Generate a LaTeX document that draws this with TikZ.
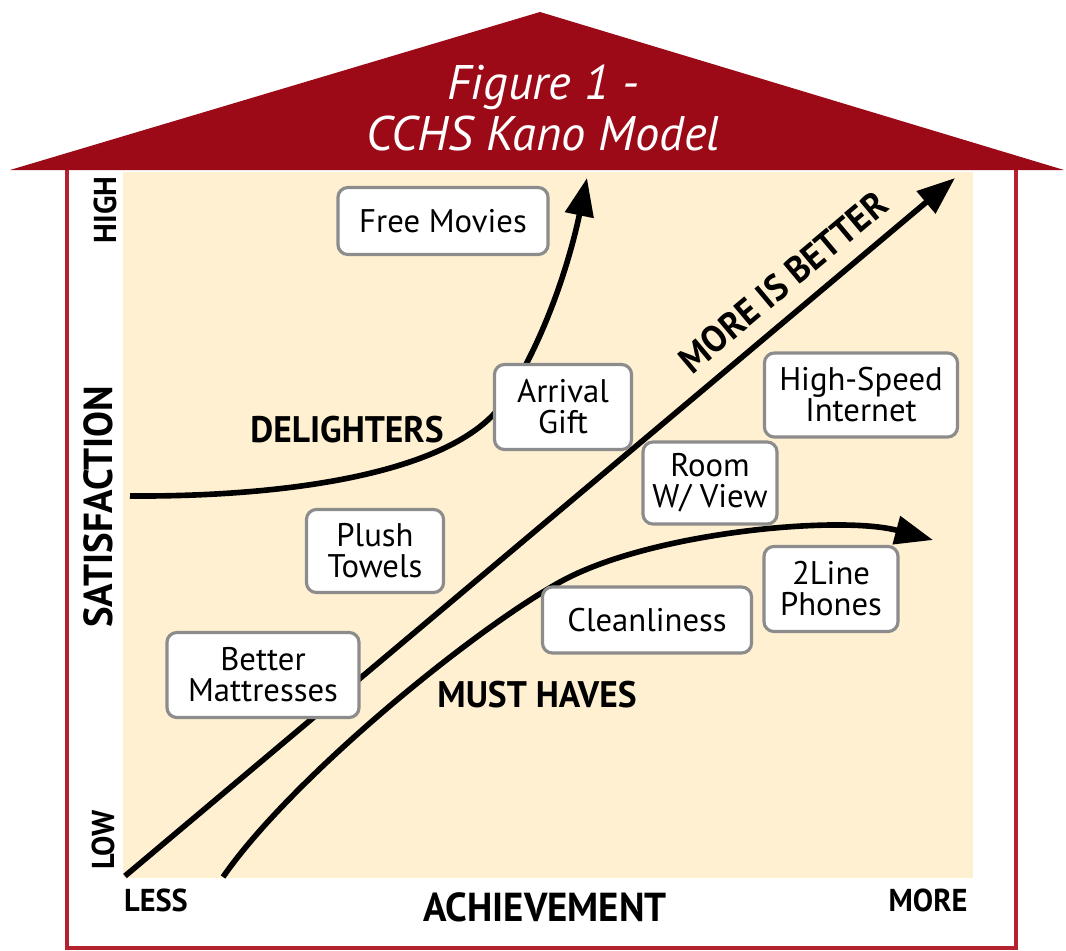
\documentclass[tikz,border=0pt]{standalone}
\usepackage{fontspec}
\setmainfont{PT Sans}
\newfontfamily\narrowfont[FakeStretch=0.96]{PT Sans}
\usetikzlibrary{arrows.meta}
\definecolor{roofred}{HTML}{9C0A17}
\definecolor{wallred}{HTML}{B3222E}
\definecolor{cream}{HTML}{FFF0D2}
\definecolor{boxgray}{HTML}{8C8C8C}

\begin{document}
\begin{tikzpicture}[
    x=0.01cm, y=-0.01cm,
    item/.style={
        rectangle, draw=boxgray, fill=white, rounded corners=0.1cm,
        line width=0.9pt, align=center, inner sep=0pt,
        font=\fontsize{9.3}{8.8}\selectfont
    },
    zone/.style={font=\narrowfont\bfseries\fontsize{10.5}{12}\selectfont},
    axisname/.style={font=\narrowfont\bfseries\fontsize{11.5}{13}\selectfont},
    axisend/.style={font=\narrowfont\bfseries\fontsize{9}{10}\selectfont},
    curve/.style={line width=1.6pt, -{Triangle[length=10.8pt,width=8pt]}}
]

\useasboundingbox (0,0) rectangle (1066,951);

% House walls, chart area and roof
\draw[wallred, line width=0.9pt] (67,168) -- (67,948) -- (1016,948) -- (1016,168);
\fill[cream] (123,172) rectangle (973,878);
\fill[roofred] (10,170) -- (540,12) -- (1064,170) -- cycle;

\node[white, align=center, font=\itshape\fontsize{13.8}{14.5}\selectfont] (title) at (543,108) {Figure 1 -\\CCHS Kano Model};

% Axis labels
\node[axisend, rotate=90] (high) at (105,210) {HIGH};
\node[axisname, rotate=90] (satisfaction) at (98,507) {SATISFACTION};
\node[axisend, rotate=90] (low) at (103,840) {LOW};
\node[axisend] (less) at (156,900) {LESS};
\node[axisname] (achievement) at (545,907) {ACHIEVEMENT};
\node[axisend] (more) at (928,900) {MORE};

% Curve end points
\coordinate (delight start) at (130,496);
\coordinate (delight tip) at (587,178);
\coordinate (linear start) at (125,876);
\coordinate (linear tip) at (955,178);
\coordinate (must start) at (223,877);
\coordinate (must tip) at (933,540);

% Kano curves
\draw[curve] (delight start) .. controls (300,497) and (460,470) .. (505,400)
    .. controls (545,340) and (570,260) .. (delight tip);
\draw[curve] (linear start) -- (linear tip);
\draw[curve] (must start) .. controls (290,780) and (470,632) .. (560,582)
    .. controls (650,532) and (840,515) .. (must tip);

% Hotel features
\node[item, minimum width=2.1cm, minimum height=0.67cm] (movies) at (443,221) {Free Movies};
\node[item, minimum width=1.37cm, minimum height=0.85cm] (gift) at (563,407) {Arrival\\Gift};
\node[item, minimum width=1.93cm, minimum height=0.84cm] (internet) at (861,395) {High-Speed\\Internet};
\node[item, minimum width=1.34cm, minimum height=0.82cm] (view) at (710,483) {Room\\W/ View};
\node[item, minimum width=1.37cm, minimum height=0.83cm] (towels) at (375,551) {Plush\\Towels};
\node[item, minimum width=1.34cm, minimum height=0.85cm] (phones) at (831,589) {2Line\\Phones};
\node[item, minimum width=2.09cm, minimum height=0.66cm] (clean) at (647,620) {Cleanliness};
\node[item, minimum width=1.92cm, minimum height=0.85cm] (mattress) at (263,675) {Better\\Mattresses};

% Curve names
\node[zone] (delighters) at (347,430) {DELIGHTERS};
\node[zone, rotate=40] (better) at (783,282) {MORE IS BETTER};
\node[zone] (musthaves) at (537,695) {MUST HAVES};

\end{tikzpicture}
\end{document}
